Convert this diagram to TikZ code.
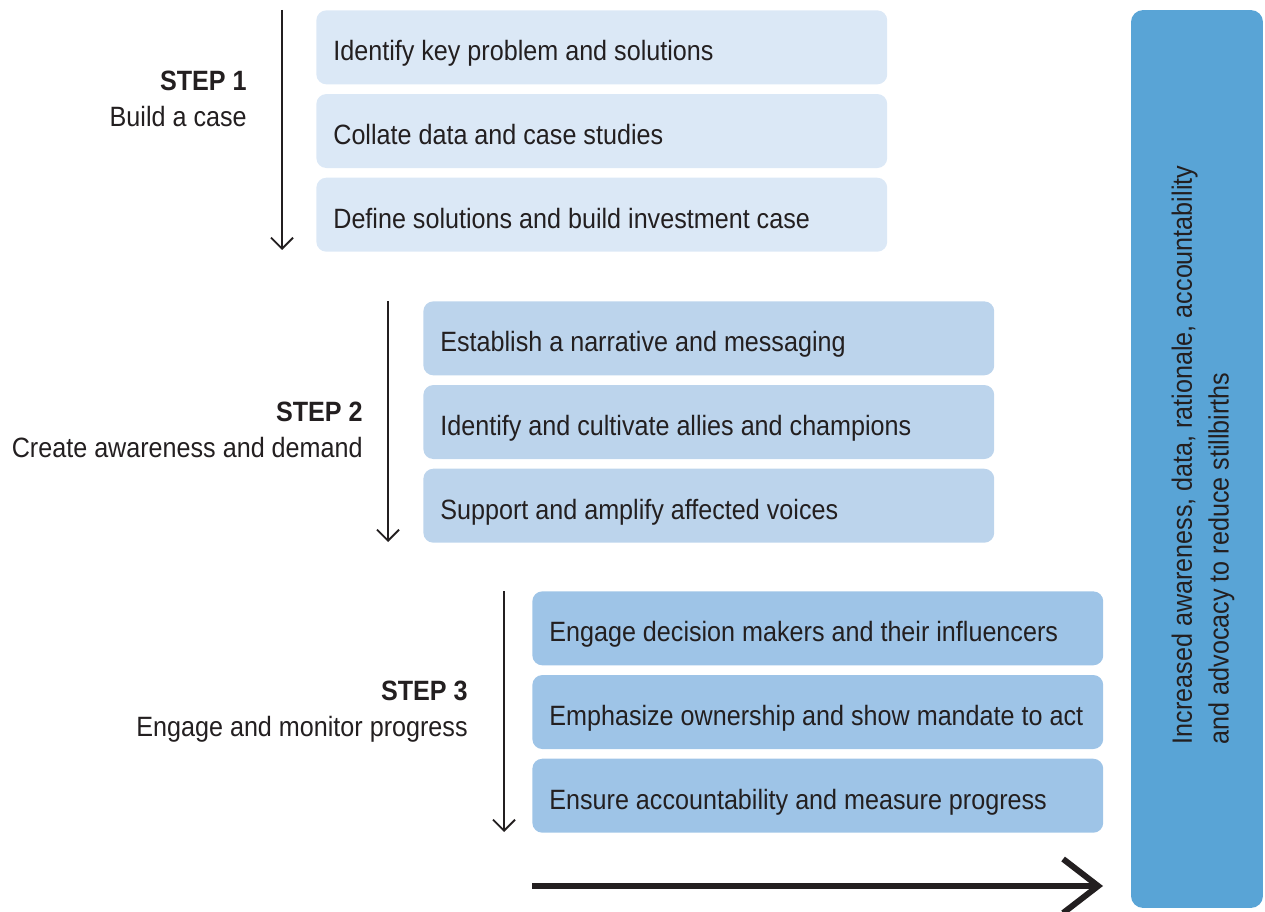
\documentclass[tikz,border=0pt]{standalone}
\usepackage{fontspec}
\setmainfont{Liberation Sans}[FakeStretch=0.9]
\usetikzlibrary{positioning,arrows.meta}
\definecolor{boxone}{RGB}{219,232,246}
\definecolor{boxtwo}{RGB}{188,212,236}
\definecolor{boxthree}{RGB}{158,196,231}
\definecolor{outblue}{RGB}{89,164,214}
\definecolor{ink}{RGB}{35,31,32}
\begin{document}
\begin{tikzpicture}
[x=0.02cm,y=-0.02cm,
 task/.style={anchor=north west,rounded corners=0.2cm,minimum width=11.42cm,
   minimum height=1.48cm,text width=10.74cm,inner xsep=0.34cm,align=flush left,
   text height=0.54cm,text depth=0pt,
   text=ink,font=\fontsize{15.9}{19}\selectfont},
 step label/.style={anchor=east,align=right,text=ink,inner sep=0pt,
   font=\fontsize{15.9}{20.5}\selectfont},
 flow/.style={draw=ink,line width=1.1pt,-{Straight Barb[length=0.22cm,width=0.44cm]}}]

\useasboundingbox (0,0) rectangle (1265,912);

% step 1
\node[task,fill=boxone] (a1) at (316,10) {Identify key problem and solutions};
\node[task,fill=boxone,below=0.18cm of a1] (a2) {Collate data and case studies};
\node[task,fill=boxone,below=0.18cm of a2] (a3) {Define solutions and build investment case};
\node[step label] (s1) at (247,99) {{\bfseries STEP 1}\\Build a case};
\coordinate (s1top) at (282,10);
\coordinate (s1end) at (282,250);
\draw[flow] (s1top) -- (s1end);

% step 2
\node[task,fill=boxtwo] (b1) at (423,301) {Establish a narrative and messaging};
\node[task,fill=boxtwo,below=0.18cm of b1] (b2) {Identify and cultivate allies and champions};
\node[task,fill=boxtwo,below=0.18cm of b2] (b3) {Support and amplify affected voices};
\node[step label] (s2) at (363,430) {{\bfseries STEP 2}\\Create awareness and demand};
\coordinate (s2top) at (388,301);
\coordinate (s2end) at (388,542);
\draw[flow] (s2top) -- (s2end);

% step 3
\node[task,fill=boxthree] (c1) at (532,591) {Engage decision makers and their influencers};
\node[task,fill=boxthree,below=0.18cm of c1] (c2) {Emphasize ownership and show mandate to act};
\node[task,fill=boxthree,below=0.18cm of c2] (c3) {Ensure accountability and measure progress};
\node[step label] (s3) at (468,712) {{\bfseries STEP 3}\\Engage and monitor progress};
\coordinate (s3top) at (504,591);
\coordinate (s3end) at (504,832);
\draw[flow] (s3top) -- (s3end);

% outcome
\node[fill=outblue,rounded corners=0.24cm,minimum width=2.64cm,
  minimum height=17.96cm,inner sep=0pt] (out) at (1197,459) {};
\node[rotate=90,align=left,text=ink,inner sep=0pt,
  font=\fontsize{15.9}{21}\selectfont] (out text) at (1203,455)
  {Increased awareness, data, rationale, accountability\\and advocacy to reduce stillbirths};
\coordinate (goal start) at (532,886);
\coordinate (goal end) at (1103,886);
\draw[draw=ink,line width=3.4pt,-{Straight Barb[length=0.7cm,width=1.08cm]}] (goal start) -- (goal end);
\end{tikzpicture}
\end{document}
